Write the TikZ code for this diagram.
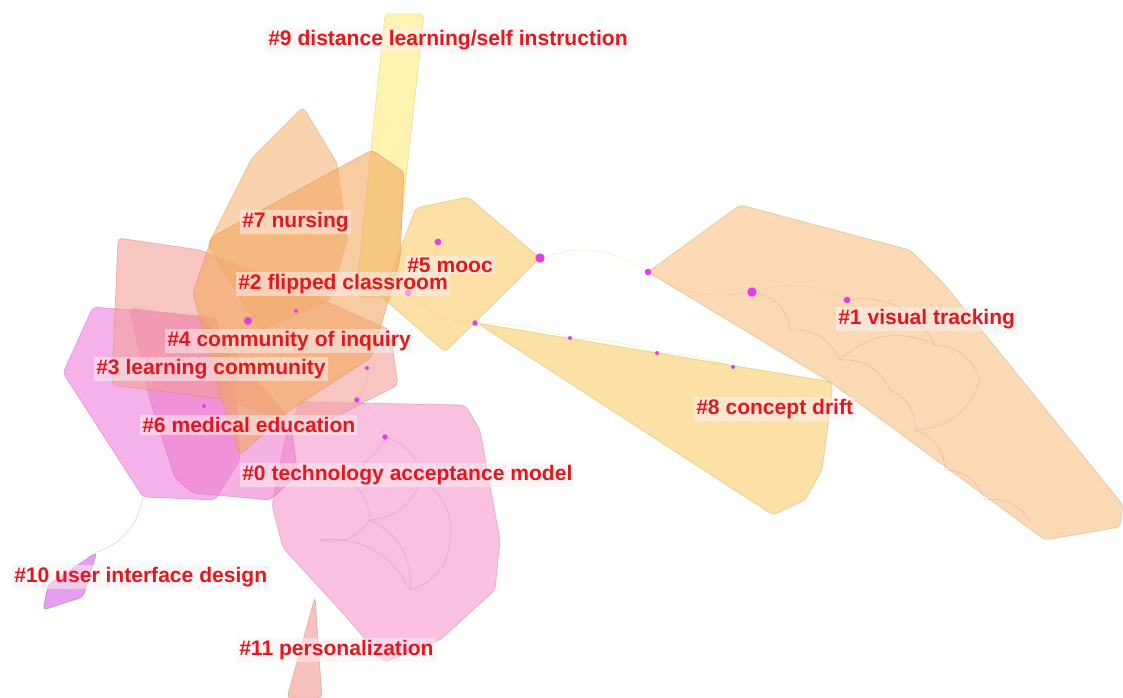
\documentclass[tikz,border=0pt]{standalone}
\usepackage{fontspec}
\setmainfont{Liberation Sans}
\usetikzlibrary{calc}

\definecolor{labelred}{RGB}{226,24,32}
\definecolor{labelbg}{RGB}{252,238,241}
\definecolor{dotmag}{RGB}{228,60,230}
\definecolor{cOne}{RGB}{247,192,130}
\definecolor{cEight}{RGB}{248,205,105}
\definecolor{cFive}{RGB}{248,202,105}
\definecolor{cNine}{RGB}{255,235,125}
\definecolor{cZero}{RGB}{245,150,202}
\definecolor{cThree}{RGB}{238,125,220}
\definecolor{cSix}{RGB}{238,125,205}
\definecolor{cFour}{RGB}{243,160,152}
\definecolor{cSeven}{RGB}{245,182,118}
\definecolor{cTwo}{RGB}{243,168,96}
\definecolor{cTen}{RGB}{210,95,228}
\definecolor{cEleven}{RGB}{243,152,142}
\definecolor{arcOne}{RGB}{200,140,150}
\definecolor{arcZero}{RGB}{190,120,190}

\tikzset{
  cluster/.style={fill=#1, draw=#1!85!black, fill opacity=0.6, draw opacity=0.45,
                  line width=0.6pt, rounded corners=3pt},
  link/.style={draw=#1, opacity=0.35, line width=0.5pt},
  clabel/.style={anchor=west, text=labelred, font=\bfseries\fontsize{15.8}{18}\selectfont,
                 fill=labelbg, fill opacity=0.55, text opacity=1, inner sep=1.5pt},
  dot/.style={circle, fill=dotmag, inner sep=0pt, minimum size=#1},
}

\begin{document}
\begin{tikzpicture}[x=0.75pt,y=-0.75pt]
            \useasboundingbox (0,0) rectangle (1123,698);

            % Draw the cluster hulls
            \draw[cluster=cOne] (740,205) -- (910,250) -- (945,285) -- (1123,505) -- (1120,527) -- (1045,540) -- (830,382) -- (648,272) -- cycle;
            \draw[cluster=cEight] (477,323) -- (832,382) -- (832,395) -- (822,470) -- (805,500) -- (773,515) -- cycle;
            \draw[cluster=cFive] (416,208) -- (468,197) -- (540,258) -- (445,352) -- (382,297) -- cycle;
            \draw[cluster=cNine] (385,14) -- (424,14) -- (393,298) -- (356,296) -- cycle;
            \draw[cluster=cZero] (300,402) -- (465,405) -- (480,430) -- (500,540) -- (495,590) -- (440,640) -- (385,662) -- (340,610) -- (283,548) -- (272,505) -- (285,440) -- cycle;
            \draw[cluster=cEleven] (315,597) -- (322,698) -- (287,698) -- cycle;
            \draw[cluster=cTen] (97,552) -- (83,597) -- (43,610) -- (48,585) -- cycle;
            \draw[cluster=cThree] (93,307) -- (215,317) -- (235,380) -- (240,460) -- (215,500) -- (143,497) -- (63,373) -- cycle;
            \draw[cluster=cSix] (130,308) -- (205,318) -- (290,420) -- (298,475) -- (270,500) -- (193,493) -- (175,478) -- (150,400) -- cycle;
            \draw[cluster=cFour] (118,238) -- (200,250) -- (300,290) -- (390,330) -- (398,385) -- (310,430) -- (230,400) -- (112,385) -- cycle;
            \draw[cluster=cSeven] (303,107) -- (337,163) -- (347,240) -- (330,300) -- (260,330) -- (208,245) -- (252,158) -- cycle;
            \draw[cluster=cTwo] (372,150) -- (404,172) -- (400,260) -- (372,357) -- (290,410) -- (240,455) -- (222,400) -- (193,293) -- (212,237) -- cycle;

            % Draw the cited references
            \node[dot=5pt] (r1) at (438,242) {};
            \node[dot=7pt] (r2) at (540,258) {};
            \node[dot=5pt] (r3) at (648,272) {};
            \node[dot=7pt] (r4) at (752,292) {};
            \node[dot=5pt] (r5) at (847,300) {};
            \node[dot=5pt] (r6) at (408,293) {};
            \node[dot=4pt] (r7) at (475,323) {};
            \node[dot=3pt] (r8) at (570,338) {};
            \node[dot=3pt] (r9) at (657,353) {};
            \node[dot=3pt] (r10) at (733,367) {};
            \node[dot=6pt] (r11) at (248,321) {};
            \node[dot=3pt] (r12) at (296,311) {};
            \node[dot=3pt] (r13) at (367,368) {};
            \node[dot=4pt] (r14) at (357,400) {};
            \node[dot=4pt] (r15) at (385,437) {};
            \node[dot=3pt] (r16) at (204,406) {};
            \coordinate (t10) at (97,552);
            \coordinate (t3) at (143,497);

            % small references inside #1 and #0
            \coordinate (a1) at (790,330);
            \coordinate (a2) at (840,360);
            \coordinate (a3) at (890,390);
            \coordinate (a4) at (915,430);
            \coordinate (a5) at (945,470);
            \coordinate (a6) at (985,500);
            \coordinate (a7) at (1030,522);
            \coordinate (a8) at (935,345);
            \coordinate (a9) at (980,380);
            \coordinate (b1) at (330,470);
            \coordinate (b2) at (420,480);
            \coordinate (b3) at (370,520);
            \coordinate (b4) at (450,540);
            \coordinate (b5) at (320,540);
            \coordinate (b6) at (410,590);

            % Draw the co-citation links
            \draw[link=cEight] (r2) to[bend left=25] (r3);
            \draw[link=cEight] (r7) to[bend left=8] (r8);
            \draw[link=cEight] (r8) to[bend left=8] (r9);
            \draw[link=cEight] (r9) to[bend left=8] (r10);
            \draw[link=cOne] (r4) to[bend left=20] (r5);
            \draw[link=cOne] (r3) to[bend right=20] (r4);
            \draw[link=cTen] (t3) to[bend left=30] (t10);
            \draw[link=cFive] (r1) to[bend left=20] (r6);
            \draw[link=cFive] (r6) to[bend right=20] (r7);
            \draw[link=cZero] (r14) to[bend left=20] (r15);
            \draw[link=cFour] (r11) to[bend left=20] (r12);
            \draw[link=cSix] (r16) to[bend right=20] (r11);
            \draw[link=cZero] (r13) to[bend left=20] (r14);
            \foreach \p/\q in {r4/a1, a1/a2, a2/a3, a3/a4, a4/a5, a5/a6, a6/a7, r5/a8, a8/a9, a9/a4, a2/a8}
                \draw[link=arcOne] (\p) to[bend left=35] (\q);
            \foreach \p/\q in {r15/b1, r15/b2, b1/b3, b2/b3, b2/b4, b3/b5, b3/b6, b4/b6, b5/b6}
                \draw[link=arcZero] (\p) to[bend left=35] (\q);

            % Draw cluster labels
            \node[clabel] (l9) at (266,40) {\#9 distance learning/self instruction};
            \node[clabel] (l7) at (240,222) {\#7 nursing};
            \node[clabel] (l5) at (405,265) {\#5 mooc};
            \node[clabel] (l2) at (236,284) {\#2 flipped classroom};
            \node[clabel] (l4) at (165,341) {\#4 community of inquiry};
            \node[clabel] (l3) at (94,369) {\#3 learning community};
            \node[clabel] (l6) at (140,425) {\#6 medical education};
            \node[clabel] (l0) at (240,475) {\#0 technology acceptance model};
            \node[clabel] (l1) at (836,319) {\#1 visual tracking};
            \node[clabel] (l8) at (694,409) {\#8 concept drift};
            \node[clabel] (l10) at (12,577) {\#10 user interface design};
            \node[clabel] (l11) at (237,650) {\#11 personalization};

        \end{tikzpicture}
\end{document}
